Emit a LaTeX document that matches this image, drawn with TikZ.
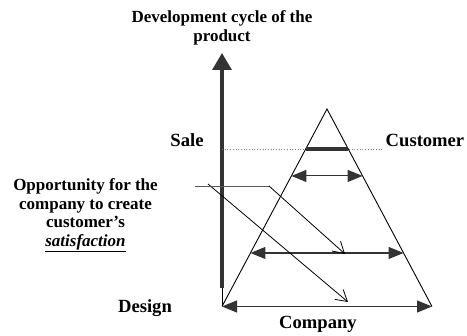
\documentclass[tikz,border=0pt]{standalone}
\usepackage{fontspec}
\setmainfont{Liberation Serif}
\usetikzlibrary{arrows.meta,calc}
\begin{document}
\begin{tikzpicture}[x=1pt,y=-1pt,
  lbl/.style={font=\fontsize{18.6}{20}\selectfont\bfseries, inner sep=0pt, anchor=base},
  txt/.style={font=\fontsize{17}{18.7}\selectfont\bfseries, inner sep=0pt, align=center, anchor=north},
  side/.style={line width=0.9pt, draw=black},
  span/.style={line width=1.1pt, draw=black!80, {Triangle[length=15pt,width=12pt]}-{Triangle[length=15pt,width=12pt]}},
  lead/.style={line width=0.8pt, draw=black, -{Straight Barb[length=11pt,width=13pt,line width=0.8pt]}},
]
\useasboundingbox (0,0) rectangle (467,336);

% triangle
\coordinate (apex) at (327,109);
\coordinate (bl) at (222,306.5);
\coordinate (br) at (432,306.5);
\draw[side] (bl) -- (apex) -- (br);

% axis
\coordinate (axb) at (222,288);
\coordinate (axt) at (222,53);
\draw[line width=3.2pt, draw=black!80, fill=black!80, -{Triangle[length=17pt,width=19pt]}] (axb) -- (axt);
\draw[line width=0.8pt] (axb) -- (bl);

% dotted sale/customer line
\coordinate (dots) at (222,149);
\coordinate (dote) at (383,149);
\draw[dotted, draw=gray, line width=0.7pt] (dots) -- (dote);

% thick segment
\coordinate (tl) at ($(apex)!0.2025!(bl)$);
\coordinate (tr) at ($(apex)!0.2025!(br)$);
\draw[line width=3.3pt, draw=black!80] (tl) -- (tr);

% spans
\coordinate (s1l) at ($(apex)!0.339!(bl)$);
\coordinate (s1r) at ($(apex)!0.339!(br)$);
\draw[span] (s1l) -- (s1r);
\coordinate (s2l) at ($(apex)!0.729!(bl)$);
\coordinate (s2r) at ($(apex)!0.729!(br)$);
\draw[span] (s2l) -- (s2r);
\draw[span] (bl) -- (br);

% leaders
\coordinate (a0) at (208,184);
\coordinate (a1) at (348,302);
\draw[lead] (a0) -- (a1);
\coordinate (b0) at (195,186);
\coordinate (b1) at (269,186);
\coordinate (b2) at (345,254);
\draw[line width=0.9pt, draw=black!65] (b0) -- (b1);
\draw[lead] (b1) -- (b2);

% texts
\node[txt] (title) at (222,10.3) {Development cycle of the\\product};
\node[txt] (opp) at (85.5,178.4) {Opportunity for the\\company to create\\customer’s\\\underline{\itshape satisfaction}};
\node[lbl] (sale) at (187,146.7) {Sale};
\node[lbl] (cust) at (425,147) {Customer};
\node[lbl] (design) at (145,312.5) {Design};
\node[lbl] (comp) at (318,329) {Company};
\end{tikzpicture}
\end{document}
